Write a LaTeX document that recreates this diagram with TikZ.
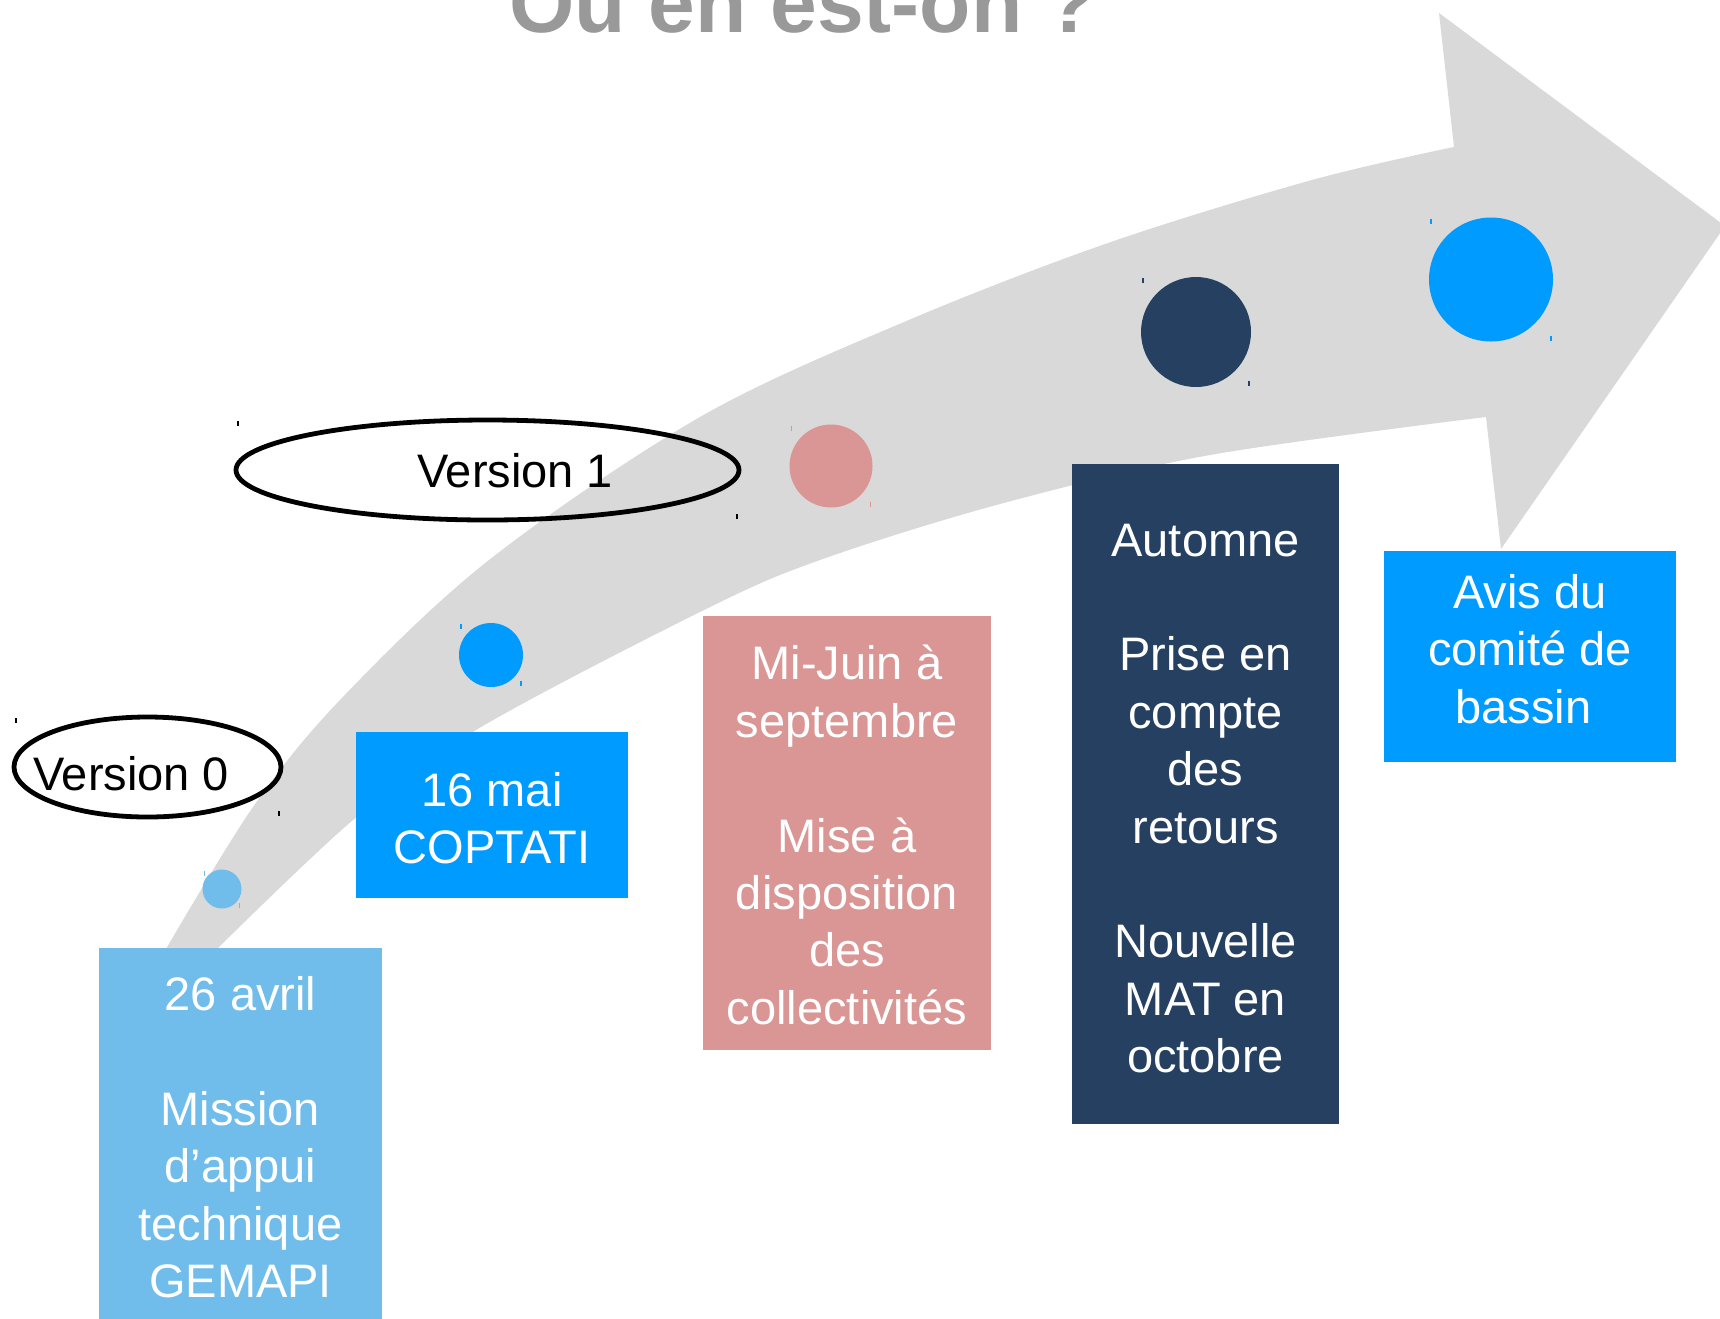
\documentclass[tikz,border=0pt]{standalone}
\usepackage{fontspec}
\setmainfont{Liberation Sans}
\usetikzlibrary{shapes.geometric}
\definecolor{arrowgray}{RGB}{217,217,217}
\definecolor{lightblue}{RGB}{112,188,235}
\definecolor{brightblue}{RGB}{0,155,255}
\definecolor{rosebox}{RGB}{217,150,148}
\definecolor{navybox}{RGB}{38,64,97}
\definecolor{titlegray}{RGB}{153,153,153}
\newcommand\cornerticks[5]{%
  \draw[tickmark,#5] ({#1-#3+2},{#2-#4+1}) -- ++(0,5);
  \draw[tickmark,#5] ({#1+#3-2},{#2+#4-1}) -- ++(0,-5);}
\tikzset{
  box/.style={rectangle, inner sep=0, outer sep=0, draw=none},
  boxtext/.style={inner sep=0, align=center, text=white, font=\fontsize{47}{57.4}\selectfont, anchor=north},
  dot/.style={circle, inner sep=0, outer sep=0, draw=none},
  ver/.style={ellipse, draw=black, line width=4.8, inner sep=0, fill=none},
  vertext/.style={inner sep=0, font=\fontsize{47}{57.4}\selectfont, anchor=base west},
  tickmark/.style={line width=1.5},
}
\begin{document}
\begin{tikzpicture}[x=1pt,y=-1pt]
\useasboundingbox (0,0) rectangle (1720,1318);
\clip (0,0) rectangle (1720,1318);
\fill[white] (0,0) rectangle (1720,1318);

% big curved arrow
\fill[arrowgray] plot[smooth, tension=0.55] coordinates {(166,949) (253,807) (340,700) (489,560) (700,417) (904,322) (1108,243) (1312,180) (1454,147)}
  -- (1439,13) -- (1725,226) -- (1501,549) -- (1486,417)
  -- plot[smooth, tension=0.55] coordinates {(1486,417) (1210,455) (1000,504) (820,560) (704,610) (476,730) (353,820) (217,949)}
  -- cycle;

% title
\node[font=\bfseries\fontsize{84}{100}\selectfont, text=titlegray, anchor=base, inner sep=0] (title) at (803,32) {Où en est-on ?};

% boxes
\node[box, fill=lightblue, minimum width=283, minimum height=400, anchor=north west] (b1) at (99,948) {};
\node[box, fill=brightblue, minimum width=272, minimum height=166] (b2) at (492,815) {};
\node[box, fill=rosebox, minimum width=288, minimum height=434] (b3) at (847,833) {};
\node[box, fill=navybox, minimum width=267, minimum height=660] (b4) at (1205.5,794) {};
\node[box, fill=brightblue, minimum width=292, minimum height=211] (b5) at (1530,656.5) {};

\node[boxtext] (t1) at (240.5,976.3) {26 avril\\\mbox{}\\Mission\\d’appui\\technique\\GEMAPI};
\node[boxtext] (t2) at (492,772) {16 mai\\COPTATI};
\node[boxtext] (t3) at (847,645) {Mi-Juin à\\septembre\\\mbox{}\\Mise à\\disposition\\des\\collectivités};
\node[boxtext] (t4) at (1205.5,523.5) {Automne\\\mbox{}\\Prise en\\compte\\des\\retours\\\mbox{}\\Nouvelle\\MAT en\\octobre};
\node[boxtext] (t5) at (1530,574.3) {Avis du\\comité de\\bassin\hspace*{13pt}};

% dots
\node[dot, fill=lightblue, minimum size=39] (c1) at (222,889) {};
\node[dot, fill=brightblue, minimum size=64] (c2) at (491,655) {};
\node[dot, fill=rosebox, minimum size=83] (c3) at (831,466) {};
\node[dot, fill=navybox, minimum size=110] (c4) at (1196,332) {};
\node[dot, fill=brightblue, minimum size=124] (c5) at (1491,279.5) {};

\cornerticks{222}{889}{19.5}{19.5}{lightblue}
\cornerticks{491}{655}{32}{32}{brightblue}
\cornerticks{831}{466}{41.5}{41.5}{rosebox}
\cornerticks{1196}{332}{55}{55}{navybox}
\cornerticks{1491}{279.5}{62}{62}{brightblue}

% version ellipses
\node[ver, minimum width=267, minimum height=100] (v0) at (147.5,767) {};
\node[ver, minimum width=503, minimum height=100] (v1) at (487.5,470) {};
\node[vertext] (v0t) at (33,790) {Version 0};
\node[vertext] (v1t) at (417,487) {Version 1};
\cornerticks{147.5}{767}{133.5}{50}{black}
\cornerticks{487.5}{470}{251.5}{50}{black}
\end{tikzpicture}
\end{document}
